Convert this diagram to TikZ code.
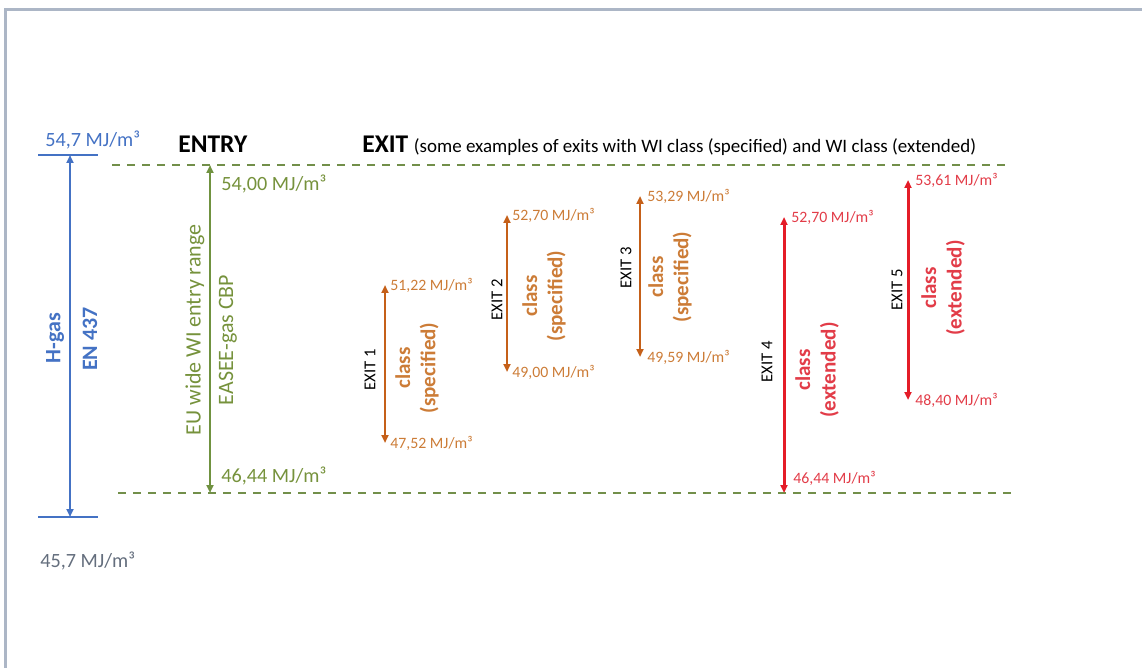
\documentclass[tikz,border=0pt]{standalone}
\usepackage{fontspec}
\setmainfont{Carlito}
\usetikzlibrary{positioning,arrows.meta}
\definecolor{wiBlue}{RGB}{68,114,196}
\definecolor{wiGrey}{RGB}{100,110,125}
\definecolor{wiGreen}{RGB}{112,146,64}
\definecolor{wiGreenTxt}{RGB}{118,146,60}
\definecolor{wiOrange}{RGB}{197,96,25}
\definecolor{wiOrangeTxt}{RGB}{204,124,55}
\definecolor{wiRed}{RGB}{228,28,40}
\definecolor{wiRedTxt}{RGB}{226,60,72}
\definecolor{wiFrame}{RGB}{172,182,198}
\tikzset{
  wi/range/.style={{Triangle[length=1.6mm,width=1.4mm]}-{Triangle[length=1.6mm,width=1.4mm]},
                   line width=1.4pt},
  wi/limit/.style={dash pattern=on 1.6mm off 1.4mm, line width=1.1pt, draw=wiGreen!85!gray},
  wi/head/.style={font=\fontsize{14.5}{16}\selectfont\bfseries, inner sep=0pt, anchor=base west},
  wi/bigval/.style={font=\fontsize{11.5}{13}\selectfont, inner sep=0pt, anchor=west},
  wi/val/.style={font=\fontsize{9}{10}\selectfont, inner sep=0pt},
  wi/side/.style={font=\fontsize{12.5}{14}\selectfont, rotate=90, inner sep=0pt},
  wi/sidebold/.style={font=\fontsize{12.5}{14}\selectfont\bfseries, rotate=90, inner sep=0pt},
  wi/exit/.style={font=\fontsize{9.5}{11}\selectfont, rotate=90, inner sep=0pt},
  wi/class/.style={font=\fontsize{12}{14.5}\selectfont\bfseries, rotate=90, align=center,
                   inner sep=0pt},
}

\begin{document}
\begin{tikzpicture}[x=0.2mm, y=-0.2mm]
  \useasboundingbox (0,0) rectangle (1142,668);
  \draw[wiFrame, line width=0.6mm] (1142,10) -- (5,10) -- (5,668);

  % ---------------- H-gas range (EN 437) ----------------
  \coordinate (hTop) at (70,155);
  \coordinate (hBot) at (70,517);
  \draw[wiBlue, line width=1.3pt] ([xshift=-6.4mm]hTop) -- ([xshift=5.6mm]hTop);
  \draw[wiBlue, line width=1.3pt] ([xshift=-6.4mm]hBot) -- ([xshift=5.6mm]hBot);
  \draw[wi/range, wiBlue] (hTop) -- (hBot);
  \node[wi/bigval, text=wiBlue] (hTopVal) at (45,140) {54,7 MJ/m³};
  \node[wi/bigval, text=wiGrey] (hBotVal) at (40,561) {45,7 MJ/m³};
  \node[wi/sidebold, text=wiBlue] (hName) at (55,338) {H-gas};
  \node[wi/sidebold, text=wiBlue] (hNorm) at (90,339) {EN 437};

  % ---------------- entry limits ----------------
  \coordinate (limTopL) at (112,165);
  \coordinate (limTopR) at (1012,165);
  \coordinate (limBotL) at (118,493);
  \coordinate (limBotR) at (1012,493);
  \draw[wi/limit] (limTopL) -- (limTopR);
  \draw[wi/limit] (limBotL) -- (limBotR);

  \node[wi/head] (entry) at (178,153) {ENTRY};
  \coordinate (enTop) at (210,165);
  \coordinate (enBot) at (210,493);
  \draw[wi/range, wiGreen] (enTop) -- (enBot);
  \node[wi/bigval, text=wiGreenTxt] (enTopVal) at (221,184) {54,00 MJ/m³};
  \node[wi/bigval, text=wiGreenTxt] (enBotVal) at (221,476) {46,44 MJ/m³};
  \node[wi/side, text=wiGreenTxt] (enName) at (195,330) {EU wide WI entry range};
  \node[wi/side, text=wiGreenTxt] (enNorm) at (228,340) {EASEE-gas CBP};

  % ---------------- exits ----------------
  \node[wi/head] (exit) at (362,153)
    {EXIT \fontsize{10.8}{12}\selectfont\mdseries (some examples of exits with WI class
     (specified) and WI class (extended)};

  % exit 1
  \coordinate (x1Top) at (385,285);
  \coordinate (x1Bot) at (385,443);
  \draw[wi/range, wiOrange] (x1Top) -- (x1Bot);
  \node[wi/val, text=wiOrangeTxt, right=1mm of x1Top] (x1TopVal) {51,22 MJ/m³};
  \node[wi/val, text=wiOrangeTxt, right=1mm of x1Bot] (x1BotVal) {47,52 MJ/m³};
  \node[wi/exit] (x1Name) at (370,370) {EXIT 1};
  \node[wi/class, text=wiOrangeTxt] (x1Class) at (417,368) {class\\(specified)};

  % exit 2
  \coordinate (x2Top) at (507,215);
  \coordinate (x2Bot) at (507,372);
  \draw[wi/range, wiOrange] (x2Top) -- (x2Bot);
  \node[wi/val, text=wiOrangeTxt, right=1mm of x2Top] (x2TopVal) {52,70 MJ/m³};
  \node[wi/val, text=wiOrangeTxt, right=1mm of x2Bot] (x2BotVal) {49,00 MJ/m³};
  \node[wi/exit] (x2Name) at (497,300) {EXIT 2};
  \node[wi/class, text=wiOrangeTxt] (x2Class) at (544,296) {class\\(specified)};

  % exit 3
  \coordinate (x3Top) at (640,196);
  \coordinate (x3Bot) at (640,357);
  \draw[wi/range, wiOrange] (x3Top) -- (x3Bot);
  \node[wi/val, text=wiOrangeTxt, right=1.4mm of x3Top] (x3TopVal) {53,29 MJ/m³};
  \node[wi/val, text=wiOrangeTxt, right=1.4mm of x3Bot] (x3BotVal) {49,59 MJ/m³};
  \node[wi/exit] (x3Name) at (626,268) {EXIT 3};
  \node[wi/class, text=wiOrangeTxt] (x3Class) at (670,277) {class\\(specified)};

  % exit 4
  \coordinate (x4Top) at (784,217);
  \coordinate (x4Bot) at (784,493);
  \draw[wi/range, wiRed, line width=1.7pt] (x4Top) -- (x4Bot);
  \node[wi/val, text=wiRedTxt, right=1.4mm of x4Top] (x4TopVal) {52,70 MJ/m³};
  \node[wi/val, text=wiRedTxt, anchor=west] (x4BotVal) at (793,478) {46,44 MJ/m³};
  \node[wi/exit] (x4Name) at (767,362) {EXIT 4};
  \node[wi/class, text=wiRedTxt] (x4Class) at (817,370) {class\\(extended)};

  % exit 5
  \coordinate (x5Top) at (908,180);
  \coordinate (x5Bot) at (908,400);
  \draw[wi/range, wiRed, line width=1.7pt] (x5Top) -- (x5Bot);
  \node[wi/val, text=wiRedTxt, right=1.4mm of x5Top] (x5TopVal) {53,61 MJ/m³};
  \node[wi/val, text=wiRedTxt, right=1.4mm of x5Bot] (x5BotVal) {48,40 MJ/m³};
  \node[wi/exit] (x5Name) at (897,290) {EXIT 5};
  \node[wi/class, text=wiRedTxt] (x5Class) at (943,288) {class\\(extended)};

\end{tikzpicture}
\end{document}
